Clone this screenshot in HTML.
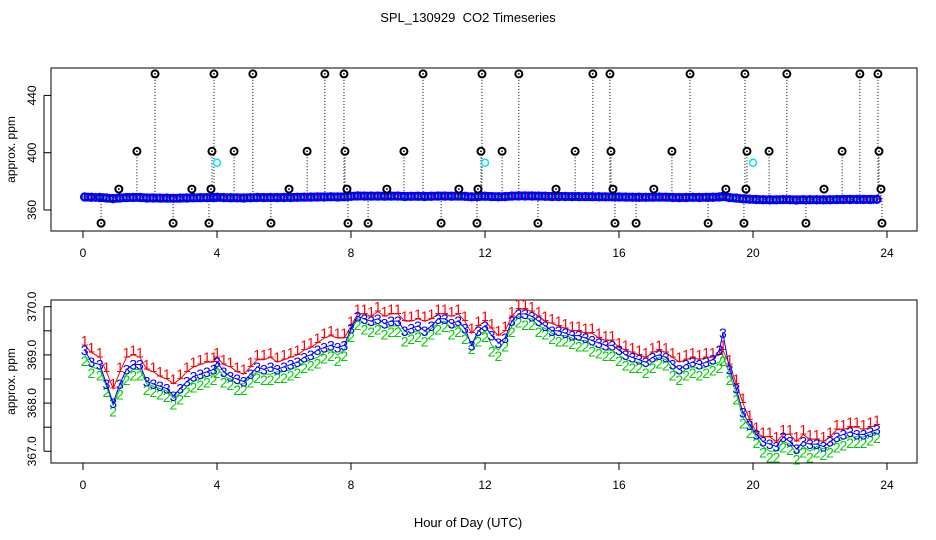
<!DOCTYPE html>
<html><head><meta charset="utf-8"><style>
body{margin:0;background:#fff}
svg{display:block;font-family:"Liberation Sans",sans-serif}
</style></head><body>
<svg id="chart" width="936" height="540" viewBox="0 0 936 540" xmlns="http://www.w3.org/2000/svg">
<rect width="936" height="540" fill="#fff"/>
<text x="468" y="22" text-anchor="middle" font-size="13" style="white-space:pre">SPL_130929  CO2 Timeseries</text>
<text x="468" y="527" text-anchor="middle" font-size="13">Hour of Day (UTC)</text>
<g id="topPanel"></g>
<g id="bottomPanel"></g>
</svg>
<script>
const hours=[0.05,0.25,0.5,0.7,0.9,1.1,1.3,1.5,1.7,1.9,2.1,2.3,2.5,2.7,2.9,3.1,3.3,3.5,3.7,3.9,4.0,4.2,4.4,4.6,4.8,5.0,5.2,5.4,5.6,5.8,6.0,6.2,6.4,6.6,6.8,7.0,7.2,7.4,7.6,7.8,8.0,8.2,8.4,8.6,8.8,9.0,9.2,9.4,9.6,9.8,10.0,10.2,10.4,10.6,10.8,11.0,11.2,11.4,11.6,11.8,12.0,12.2,12.4,12.6,12.8,13.0,13.2,13.4,13.6,13.8,14.0,14.2,14.4,14.6,14.8,15.0,15.2,15.4,15.6,15.8,16.0,16.2,16.4,16.6,16.8,17.0,17.2,17.4,17.6,17.8,18.0,18.2,18.4,18.6,18.8,19.0,19.1,19.3,19.5,19.7,19.9,20.1,20.3,20.5,20.7,20.9,21.1,21.3,21.5,21.7,21.9,22.1,22.3,22.5,22.7,22.9,23.1,23.3,23.5,23.7];
const series3=[369.1,368.85,368.8,368.4,368.0,368.4,368.7,368.8,368.8,368.45,368.4,368.35,368.3,368.15,368.3,368.45,368.55,368.6,368.65,368.7,368.85,368.65,368.55,368.5,368.45,368.6,368.75,368.7,368.75,368.7,368.75,368.8,368.85,368.95,369.0,369.1,369.15,369.2,369.15,369.2,369.55,369.8,369.75,369.7,369.75,369.65,369.7,369.7,369.5,369.55,369.6,369.5,369.6,369.75,369.75,369.65,369.7,369.55,369.2,369.5,369.6,369.4,369.25,369.35,369.7,369.85,369.85,369.8,369.7,369.6,369.5,369.5,369.45,369.4,369.4,369.35,369.3,369.25,369.2,369.2,369.1,369.0,368.95,368.9,368.85,368.95,369.0,368.95,368.8,368.7,368.8,368.85,368.8,368.85,368.9,369.1,369.45,368.7,368.3,367.8,367.55,367.35,367.2,367.15,367.1,367.3,367.2,367.05,367.2,367.15,367.15,367.1,367.2,367.3,367.35,367.4,367.35,367.35,367.4,367.45];
const series1=[369.2,369.05,368.95,368.65,368.3,368.65,368.95,369.0,368.95,368.7,368.65,368.55,368.5,368.4,368.5,368.65,368.75,368.8,368.85,368.85,368.95,368.8,368.75,368.65,368.6,368.75,368.9,368.9,368.95,368.85,368.9,368.95,369.0,369.1,369.15,369.25,369.35,369.4,369.35,369.35,369.6,369.85,369.85,369.8,369.9,369.8,369.85,369.85,369.7,369.7,369.75,369.7,369.75,369.85,369.85,369.8,369.85,369.7,369.45,369.6,369.7,369.55,369.4,369.5,369.8,369.95,369.95,369.9,369.8,369.7,369.65,369.6,369.55,369.5,369.5,369.45,369.45,369.35,369.3,369.3,369.15,369.1,369.05,369.0,368.95,369.05,369.1,369.05,368.95,368.85,368.9,368.95,368.9,368.95,368.95,369.0,369.1,368.8,368.4,368.0,367.65,367.4,367.3,367.3,367.2,367.35,367.35,367.2,367.35,367.25,367.25,367.2,367.3,367.45,367.45,367.5,367.5,367.45,367.5,367.55];
const series2=[369.0,368.75,368.7,368.35,367.95,368.3,368.6,368.7,368.7,368.4,368.35,368.3,368.25,368.1,368.2,368.35,368.45,368.5,368.55,368.6,368.75,368.55,368.5,368.4,368.4,368.55,368.65,368.6,368.6,368.65,368.65,368.7,368.75,368.85,368.9,368.95,369.05,369.1,369.0,369.1,369.5,369.75,369.65,369.6,369.65,369.55,369.6,369.6,369.4,369.45,369.5,369.4,369.55,369.65,369.7,369.55,369.6,369.45,369.25,369.4,369.5,369.2,369.1,369.3,369.6,369.8,369.75,369.75,369.6,369.55,369.45,369.4,369.4,369.35,369.3,369.3,369.2,369.15,369.1,369.1,369.0,368.9,368.85,368.85,368.75,368.85,368.95,368.9,368.7,368.6,368.7,368.75,368.7,368.75,368.8,368.85,369.0,368.6,368.2,367.7,367.5,367.3,367.1,367.0,367.0,367.2,367.15,366.95,367.1,367.0,367.1,367.05,367.1,367.2,367.25,367.3,367.3,367.3,367.35,367.4];
const highHours=[2.15,3.91,5.07,7.22,7.79,10.15,11.91,13.01,15.22,15.73,18.12,19.76,21.01,23.19,23.73];
const highValues=[455,455,455,455,455,455,455,455,455,455,455,455,455,455,455];
const midHours=[1.61,3.85,4.51,6.69,7.82,9.58,11.88,12.51,14.69,15.76,17.58,19.82,20.48,22.66,23.76];
const midValues=[401,401,401,401,401,401,401,401,401,401,401,401,401,401,401];
const lowMidHours=[1.07,3.25,3.82,6.15,7.88,9.07,11.22,11.79,14.12,15.82,17.04,19.19,19.79,22.12,23.82];
const lowMidValues=[374.6,374.6,374.6,374.6,374.6,374.6,374.6,374.6,374.6,374.6,374.6,374.6,374.6,374.6,374.6];
const lowHours=[0.54,2.69,3.76,5.61,7.91,8.51,10.69,11.76,13.58,15.88,16.51,18.66,19.73,21.58,23.85];
const lowValues=[350.8,350.8,350.8,350.8,350.8,350.8,350.8,350.8,350.8,350.8,350.8,350.8,350.8,350.8,350.8];
const cyanHours=[4.0,12.0,20.0];
const cyanValues=[393,393,393];
const xTicks=[0,4,8,12,16,20,24];
const topYTicks=[360,400,440];
const botYTicks=[367.0,367.5,368.0,368.5,369.0,369.5,370.0];
const botYLabels=["367.0","","368.0","","369.0","","370.0"];

const NS="http://www.w3.org/2000/svg";
function mk(p,t,a){const e=document.createElementNS(NS,t);for(const k in a)e.setAttribute(k,a[k]);p.appendChild(e);return e;}
const xS=h=>83+h*33.5;
const yTop=v=>152.7+(400-v)*1.4325;
const yBot=v=>306.7+(370-v)*48.2;
const gTop=document.getElementById('topPanel'),gBot=document.getElementById('bottomPanel');

function axes(g,y0,y1,yS,ticks,labels,pre){
  const box=mk(g,'rect',{x:51,y:y0,width:866,height:y1-y0,fill:'none',stroke:'#000','stroke-width':1});
  
  
  mk(g,'line',{x1:xS(0),x2:xS(24),y1:y1,y2:y1,stroke:'#000'});
  xTicks.forEach(t=>{
    mk(g,'line',{x1:xS(t),x2:xS(t),y1:y1,y2:y1+7,stroke:'#000'});
    const tx=mk(g,'text',{x:xS(t),y:y1+26,'text-anchor':'middle','font-size':12});
    tx.textContent=t;
    
    
  });
  mk(g,'line',{x1:44,x2:44,y1:yS(ticks[0]),y2:yS(ticks[ticks.length-1]),stroke:'#000'});
  ticks.forEach((t,i)=>{
    mk(g,'line',{x1:44,x2:51,y1:yS(t),y2:yS(t),stroke:'#000'});
    if(labels[i]){const tx=mk(g,'text',{x:36,y:yS(t),'text-anchor':'middle','font-size':12,transform:`rotate(-90 36 ${yS(t)})`});
    tx.textContent=labels[i];
    
    }
  });
  const yl=mk(g,'text',{x:15,y:(y0+y1)/2,'text-anchor':'middle','font-size':12,transform:`rotate(-90 15 ${(y0+y1)/2})`});
  yl.textContent='approx. ppm';
  
  
}
axes(gTop,68,231,yTop,topYTicks,topYTicks.map(String),'top');
axes(gBot,300,463,yBot,botYTicks,botYLabels,'bottom');

const outlierSets=[[highHours,highValues],[midHours,midValues],[lowMidHours,lowMidValues],[lowHours,lowValues]];
outlierSets.forEach(p=>{
  p[0].forEach((h,i)=>{
    mk(gTop,'line',{x1:xS(h),x2:xS(h),y1:yTop(p[1][i]),y2:yTop(369),stroke:'#000','stroke-dasharray':'1 2'});
  });
});
hours.forEach((h,i)=>{
  const c=mk(gTop,'circle',{cx:xS(h),cy:yTop(series3[i]),r:3.5,fill:'none',stroke:'#0000ff','stroke-width':2.4});
  
  
  if(i<hours.length-1){
    mk(gTop,'circle',{cx:(xS(h)+xS(hours[i+1]))/2,cy:(yTop(series3[i])+yTop(series3[i+1]))/2,r:3.5,fill:'none',stroke:'#0000ff','stroke-width':2});
  }
  mk(gTop,'circle',{cx:xS(h)+1.5,cy:yTop(series1[i]),r:1,fill:'#ff0000'});
  mk(gTop,'circle',{cx:xS(h)-1.5,cy:yTop(series2[i]),r:1,fill:'#00cc00'});
});
outlierSets.forEach(p=>{
  p[0].forEach((h,i)=>{
    const c=mk(gTop,'circle',{cx:xS(h),cy:yTop(p[1][i]),r:3.5,fill:'#fff',stroke:'#000','stroke-width':2});
    
    
    mk(gTop,'circle',{cx:xS(h),cy:yTop(p[1][i]),r:0.9,fill:'#000'});
  });
});
cyanHours.forEach((h,i)=>{
  const c=mk(gTop,'circle',{cx:xS(h),cy:yTop(cyanValues[i]),r:3.5,fill:'none',stroke:'#00e5ee','stroke-width':1.5});
  
  
});

[[series1,'#ff0000','1',-5],[series2,'#00cc00','2',6],[series3,'#0000ff','3',0]].forEach(s=>{
  const pl=mk(gBot,'polyline',{points:hours.map((h,i)=>xS(h)+','+yBot(s[0][i])).join(' '),fill:'none',stroke:s[1],'stroke-width':1});
  
  
  hours.forEach((h,i)=>{
    const t=mk(gBot,'text',{x:xS(h),y:yBot(s[0][i])+5+s[3],'text-anchor':'middle','font-size':14,fill:s[1]});
    t.textContent=s[2];
    
    
  });
});
</script>
</body></html>
